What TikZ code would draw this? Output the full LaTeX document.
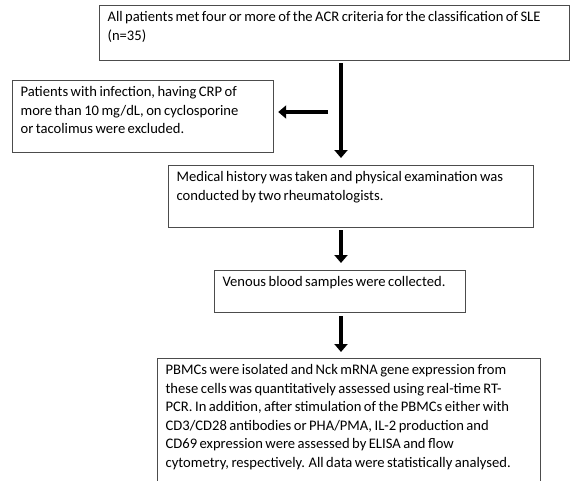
\documentclass[tikz,border=0pt]{standalone}
\usepackage{fontspec}
\setmainfont{Carlito}[WordSpace=0.75]
\usetikzlibrary{arrows.meta}
\newcommand{\boxfont}{\fontsize{14.6}{18.5}\selectfont}

\begin{document}
\begin{tikzpicture}[x=1pt,y=-1pt,
  stepbox/.style={draw=black!70,line width=1.2pt,anchor=north west,align=flush left,
    inner xsep=8pt,inner ysep=6pt,text height=10pt,font=\boxfont},
  bigarrow/.style={line width=3.6pt,-{Triangle[length=8pt,width=13pt]}}]
\useasboundingbox (0,0) rectangle (571,480);
\clip (0,0) rectangle (571,480);
\node[stepbox,text width=454pt,text depth=33pt] (crit) at (99,5) {All patients met four or more of the ACR criteria for the classification of SLE\\(n=35)};
\node[stepbox,text width=245pt,text depth=50pt] (excl) at (12,80) {Patients with infection, having CRP of\\more than 10 mg/dL, on cyclosporine\\or tacolimus were excluded.};
\node[stepbox,text width=349pt,text depth=40pt] (hist) at (168,165) {Medical history was taken and physical examination was\\conducted by two rheumatologists.};
\node[stepbox,text width=235pt,text depth=20pt] (blood) at (214,270) {Venous blood samples were collected.};
\node[stepbox,text width=367pt,text depth=150pt] (pbmc) at (157,358) {PBMCs were isolated and Nck mRNA gene expression from\\these cells was quantitatively assessed using real-time RT-\\PCR. In addition, after stimulation of the PBMCs either with\\CD3/CD28 antibodies or PHA/PMA, IL-2 production and\\CD69 expression were assessed by ELISA and flow\\cytometry, respectively. All data were statistically analysed.};
% arrows
\coordinate (spine) at (341,0);
\coordinate (branch) at (328,112);
\draw[bigarrow] ([yshift=-2pt]crit.south -| spine) -- ([yshift=7pt]hist.north -| spine);
\draw[bigarrow] (branch) -- ([xshift=4pt]excl.east |- branch);
\draw[bigarrow] ([yshift=-2pt]hist.south -| spine) -- ([yshift=7pt]blood.north -| spine);
\draw[bigarrow] ([yshift=-3pt]blood.south -| spine) -- ([yshift=6pt]pbmc.north -| spine);
\end{tikzpicture}
\end{document}
